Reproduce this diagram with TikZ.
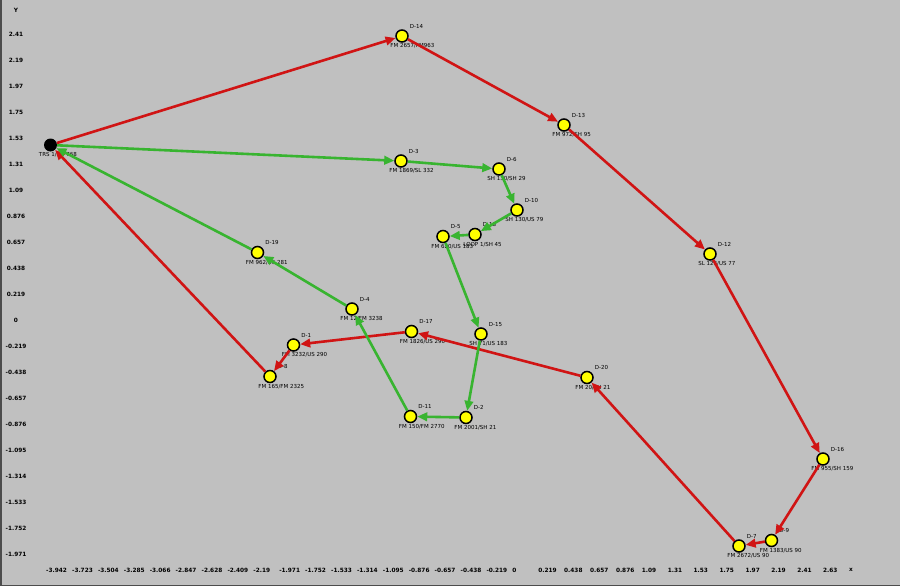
\documentclass[tikz,border=0pt]{standalone}
\usepackage{fontspec}
\setmainfont{DejaVu Sans}
\usepackage{tikz}
\usetikzlibrary{arrows.meta}
\usepackage{xcolor}
\definecolor{panelgray}{RGB}{192,192,192}
\definecolor{routered}{RGB}{208,20,20}
\definecolor{routegreen}{RGB}{56,180,48}
\definecolor{stopyellow}{RGB}{255,255,0}

\begin{document}
\begin{tikzpicture}[
    x=1pt, y=-1pt,
    stop/.style={circle,draw=black,line width=1.5pt,fill=stopyellow,
                 minimum size=12pt,inner sep=0pt},
    depot/.style={circle,fill=black,minimum size=13pt,inner sep=0pt},
    idlab/.style={anchor=west,inner sep=0pt,xshift=3pt,yshift=5pt,
                  font=\fontsize{5.5}{6}\selectfont},
    addrlab/.style={anchor=west,inner sep=0pt,xshift=-7pt,yshift=-5pt,
                    font=\fontsize{5.5}{6}\selectfont},
    tick/.style={inner sep=0pt,font=\bfseries\fontsize{5.8}{6}\selectfont},
    redarr/.style={-{Triangle[length=10pt,width=8.5pt]},line width=2.6pt,routered},
    greenarr/.style={-{Triangle[length=10pt,width=8.5pt]},line width=2.6pt,routegreen}
  ]
    \useasboundingbox (0,0) rectangle (900,586);
    \fill[panelgray] (-5,-5) rectangle (905,591);
    \draw[black!70,line width=1.5pt] (0.75,-5) -- (0.75,585.25) -- (905,585.25);

    % axis labels
    \node[tick] (ylab) at (16,10) {Y};
    \foreach \v [count=\i] in {2.41,2.19,1.97,1.75,1.53,1.31,1.09,0.876,0.657,
        0.438,0.219,0,-0.219,-0.438,-0.657,-0.876,-1.095,-1.314,-1.533,-1.752,-1.971}
      \node[tick] (yt\i) at (16,{34+26*(\i-1)}) {\v};
    \foreach \v [count=\i] in {-3.942,-3.723,-3.504,-3.285,-3.066,-2.847,-2.628,
        -2.409,-2.19,-1.971,-1.752,-1.533,-1.314,-1.095,-0.876,-0.657,-0.438,-0.219,
        0,0.219,0.438,0.657,0.876,1.09,1.31,1.53,1.75,1.97,2.19,2.41,2.63,x}
      \node[tick,anchor=west] (xt\i) at ({46+25.9*(\i-1)},570) {\v};

    % stops
    \node[depot,label={[addrlab]-135:TRS 1/FM 768}] (dep) at (50.5,145) {};
    \node[stop,label={[idlab]45:D-14},label={[addrlab]-135:FM 2657/FM963}] (d14) at (402,36) {};
    \node[stop,label={[idlab]45:D-13},label={[addrlab]-135:FM 972/SH 95}] (d13) at (564,125) {};
    \node[stop,label={[idlab]45:D-12},label={[addrlab]-135:SL 123/US 77}] (d12) at (710,254) {};
    \node[stop,label={[idlab]45:D-16},label={[addrlab]-135:FM 955/SH 159}] (d16) at (823,459) {};
    \node[stop,label={[idlab]45:D-9},label={[addrlab]-135:FM 1383/US 90}] (d9) at (771.5,540.5) {};
    \node[stop,label={[idlab]45:D-7},label={[addrlab]-135:FM 2672/US 90}] (d7) at (739,546) {};
    \node[stop,label={[idlab]45:D-20},label={[addrlab]-135:FM 20/SH 21}] (d20) at (587,377.5) {};
    \node[stop,label={[idlab]45:D-17},label={[addrlab]-135:FM 1826/US 290}] (d17) at (411.5,331.5) {};
    \node[stop,label={[idlab]45:D-1},label={[addrlab]-135:FM 3232/US 290}] (d1) at (293.5,345) {};
    \node[stop,label={[idlab]45:D-8},label={[addrlab]-135:FM 165/FM 2325}] (d8) at (270,376.5) {};
    \node[stop,label={[idlab]45:D-3},label={[addrlab]-135:FM 1869/SL 332}] (d3) at (401,161) {};
    \node[stop,label={[idlab]45:D-6},label={[addrlab]-135:SH 130/SH 29}] (d6) at (499,169) {};
    \node[stop,label={[idlab]45:D-10},label={[addrlab]-135:SH 130/US 79}] (d10) at (517,210) {};
    \node[stop,label={[idlab]45:D-18},label={[addrlab]-135:LOOP 1/SH 45}] (d18) at (475,234.5) {};
    \node[stop,label={[idlab]45:D-5},label={[addrlab]-135:FM 620/US 183}] (d5) at (443,236.5) {};
    \node[stop,label={[idlab]45:D-15},label={[addrlab]-135:SH 71/US 183}] (d15) at (481,334) {};
    \node[stop,label={[idlab]45:D-2},label={[addrlab]-135:FM 2001/SH 21}] (d2) at (466,417.5) {};
    \node[stop,label={[idlab]45:D-11},label={[addrlab]-135:FM 150/FM 2770}] (d11) at (410.5,416.5) {};
    \node[stop,label={[idlab]45:D-4},label={[addrlab]-135:FM 12/FM 3238}] (d4) at (352,309) {};
    \node[stop,label={[idlab]45:D-19},label={[addrlab]-135:FM 962/US 281}] (d19) at (257.5,252.5) {};

    % red route
    \draw[redarr] (dep) -- (d14);
    \draw[redarr] (d14) -- (d13);
    \draw[redarr] (d13) -- (d12);
    \draw[redarr] (d12) -- (d16);
    \draw[redarr] (d16) -- (d9);
    \draw[redarr] (d9) -- (d7);
    \draw[redarr] (d7) -- (d20);
    \draw[redarr] (d20) -- (d17);
    \draw[redarr] (d17) -- (d1);
    \draw[redarr] (d1) -- (d8);
    \draw[redarr] (d8) -- (dep);

    % green route
    \draw[greenarr] (dep) -- (d3);
    \draw[greenarr] (d3) -- (d6);
    \draw[greenarr] (d6) -- (d10);
    \draw[greenarr] (d10) -- (d18);
    \draw[greenarr] (d18) -- (d5);
    \draw[greenarr] (d5) -- (d15);
    \draw[greenarr] (d15) -- (d2);
    \draw[greenarr] (d2) -- (d11);
    \draw[greenarr] (d11) -- (d4);
    \draw[greenarr] (d4) -- (d19);
    \draw[greenarr] (d19) -- (dep);
  \end{tikzpicture}
\end{document}
